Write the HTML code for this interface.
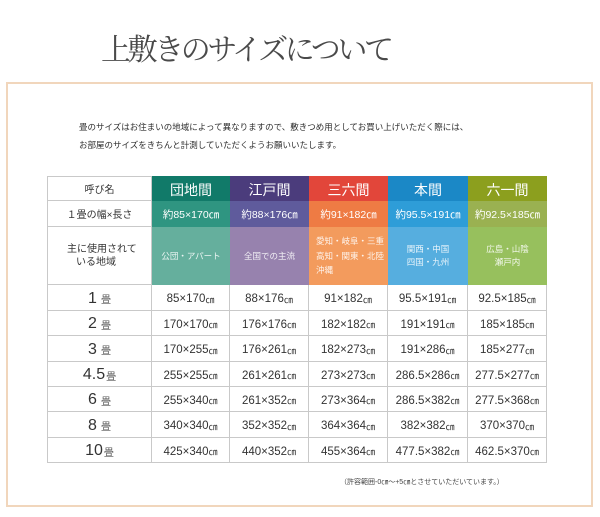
<!DOCTYPE html>
<html><head><meta charset="utf-8">
<style>
*{margin:0;padding:0;box-sizing:border-box}
html,body{width:600px;height:517px;background:#fff;overflow:hidden}
body{position:relative;font-family:"Liberation Sans","Noto Sans CJK JP",sans-serif;color:#333}
.title{position:absolute;left:101px;top:36px;font-family:"Liberation Serif","Noto Serif CJK SC",serif;font-size:30px;line-height:30px;letter-spacing:-3.4px;color:#4a4a4a;white-space:nowrap}
.box{position:absolute;left:6px;top:82px;width:587px;height:425px;border:2px solid #f1d6bc}
.desc{position:absolute;left:79px;top:118px;font-size:8.5px;line-height:18px;color:#2e2e2e;white-space:nowrap}
.grid{position:absolute;left:47px;top:176px;display:grid;grid-template-columns:105px 78px 79px 79px 80px 79px;grid-template-rows:25px 26px 58px 26px 25px 26px 25px 25px 26px 25px}
.grid>div{display:flex;align-items:center;justify-content:center;text-align:center;white-space:nowrap}
.w{border-right:1px solid #c9c9c9;border-bottom:1px solid #c9c9c9;background:#fff}
.l{border-left:1px solid #c9c9c9}
.t{border-top:1px solid #c9c9c9}
.lab{font-size:10px;color:#333}
.h{color:#fff;font-size:14px;padding-top:2px}
.s{color:#fff;font-size:10.5px}
.r{color:rgba(255,255,255,.88);font-size:8.5px;line-height:13px}
.v{font-size:11.5px;color:#333;padding-top:3px}
.v i{font-style:normal;font-size:9px}
.n{font-size:16px;color:#333;padding-top:2px}
.n b{font-weight:normal}
.n i{font-style:normal;font-size:10px;color:#555;margin-left:1px}
.n b.g{margin-right:3px}
.c1a{background:#117a69}.c1b{background:#2f9581}.c1c{background:#65af9d}
.c2a{background:#4b3c7c}.c2b{background:#5f5b9c}.c2c{background:#9782ae}
.c3a{background:#e2463a}.c3b{background:#ee7b44}.c3c{background:#f39b5d}
.c4a{background:#1b88c6}.c4b{background:#2e9dd8}.c4c{background:#56aedf}
.c5a{background:#8c9f1e}.c5b{background:#9ab151}.c5c{background:#97c05d}
.note{position:absolute;left:340px;top:478px;font-size:7px;line-height:10px;color:#444;white-space:nowrap}
</style></head><body>
<div class="title">上敷きのサイズについて</div>
<div class="box"></div>
<div class="desc">畳のサイズはお住まいの地域によって異なりますので、敷きつめ用としてお買い上げいただく際には、<br>お部屋のサイズをきちんと計測していただくようお願いいたします。</div>

<div class="grid">
  <div class="w l t lab">呼び名</div>
  <div class="c1a h">団地間</div>
  <div class="c2a h">江戸間</div>
  <div class="c3a h">三六間</div>
  <div class="c4a h">本間</div>
  <div class="c5a h">六一間</div>

  <div class="w l lab">１畳の幅×長さ</div>
  <div class="c1b s">約85×170㎝</div>
  <div class="c2b s">約88×176㎝</div>
  <div class="c3b s">約91×182㎝</div>
  <div class="c4b s">約95.5×191㎝</div>
  <div class="c5b s">約92.5×185㎝</div>

  <div class="w l lab" style="position:relative"><span style="position:absolute;left:19px;top:17px;line-height:12px">主に使用されて</span><span style="position:absolute;left:28px;top:30px;line-height:12px">いる地域</span></div>
  <div class="c1c r">公団・アパート</div>
  <div class="c2c r">全国での主流</div>
  <div class="c3c r" style="justify-content:flex-start;text-align:left;padding-left:7px;line-height:14.5px">愛知・岐阜・三重<br>高知・関東・北陸<br>沖縄</div>
  <div class="c4c r">関西・中国<br>四国・九州</div>
  <div class="c5c r">広島・山陰<br>瀬戸内</div>

  <div class="w l n"><b class="g">1</b><i>畳</i></div>
  <div class="w v">85×170<i>㎝</i></div>
  <div class="w v">88×176<i>㎝</i></div>
  <div class="w v">91×182<i>㎝</i></div>
  <div class="w v">95.5×191<i>㎝</i></div>
  <div class="w v">92.5×185<i>㎝</i></div>

  <div class="w l n"><b class="g">2</b><i>畳</i></div>
  <div class="w v">170×170<i>㎝</i></div>
  <div class="w v">176×176<i>㎝</i></div>
  <div class="w v">182×182<i>㎝</i></div>
  <div class="w v">191×191<i>㎝</i></div>
  <div class="w v">185×185<i>㎝</i></div>

  <div class="w l n"><b class="g">3</b><i>畳</i></div>
  <div class="w v">170×255<i>㎝</i></div>
  <div class="w v">176×261<i>㎝</i></div>
  <div class="w v">182×273<i>㎝</i></div>
  <div class="w v">191×286<i>㎝</i></div>
  <div class="w v">185×277<i>㎝</i></div>

  <div class="w l n"><b>4.5</b><i>畳</i></div>
  <div class="w v">255×255<i>㎝</i></div>
  <div class="w v">261×261<i>㎝</i></div>
  <div class="w v">273×273<i>㎝</i></div>
  <div class="w v">286.5×286<i>㎝</i></div>
  <div class="w v">277.5×277<i>㎝</i></div>

  <div class="w l n"><b class="g">6</b><i>畳</i></div>
  <div class="w v">255×340<i>㎝</i></div>
  <div class="w v">261×352<i>㎝</i></div>
  <div class="w v">273×364<i>㎝</i></div>
  <div class="w v">286.5×382<i>㎝</i></div>
  <div class="w v">277.5×368<i>㎝</i></div>

  <div class="w l n"><b class="g">8</b><i>畳</i></div>
  <div class="w v">340×340<i>㎝</i></div>
  <div class="w v">352×352<i>㎝</i></div>
  <div class="w v">364×364<i>㎝</i></div>
  <div class="w v">382×382<i>㎝</i></div>
  <div class="w v">370×370<i>㎝</i></div>

  <div class="w l n"><b>10</b><i>畳</i></div>
  <div class="w v">425×340<i>㎝</i></div>
  <div class="w v">440×352<i>㎝</i></div>
  <div class="w v">455×364<i>㎝</i></div>
  <div class="w v">477.5×382<i>㎝</i></div>
  <div class="w v">462.5×370<i>㎝</i></div>
</div>

<div class="note">（許容範囲-0㎝～+5㎝とさせていただいています。）</div>
</body></html>
